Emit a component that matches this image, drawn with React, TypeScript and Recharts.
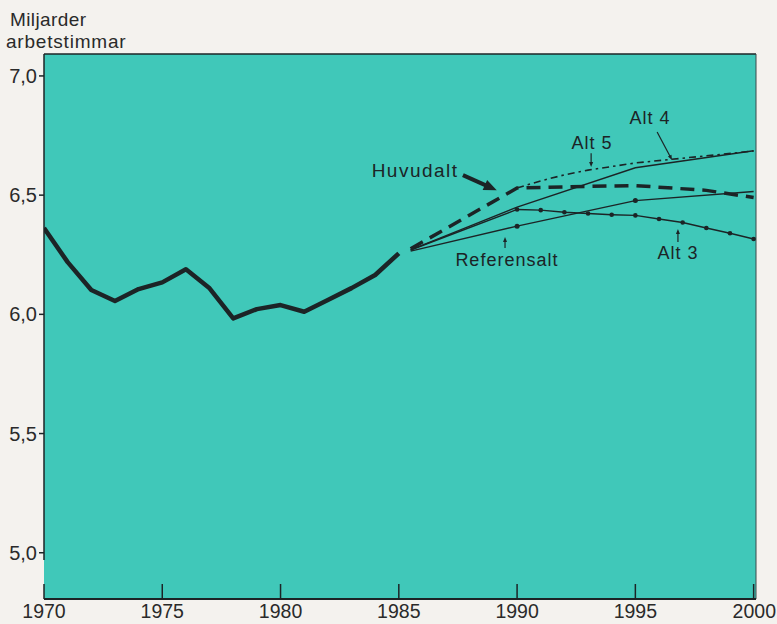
import React from 'react';
import { LineChart, Line, XAxis, YAxis, CartesianGrid, ReferenceLine, ReferenceDot } from 'recharts';

const INK = '#1c2426';
const TEAL = '#40c8b9';
const PAPER = '#f4f2ee';
const FONT = '"Liberation Sans", Arial, sans-serif';

// Historical (1970-1985)
const histYears = [1970, 1971, 1972, 1973, 1974, 1975, 1976, 1977, 1978, 1979, 1980, 1981, 1982, 1983, 1984, 1985];
const histValues = [6.362, 6.219, 6.102, 6.056, 6.106, 6.134, 6.189, 6.109, 5.983, 6.022, 6.039, 6.011, 6.06, 6.11, 6.165, 6.256];

// Projections
const huvudaltYears = [1985.5, 1990, 1993, 1995, 1998, 2000];
const huvudaltValues = [6.275, 6.53, 6.537, 6.54, 6.52, 6.49];

const alt4Years = [1985.5, 1990, 1995, 2000];
const alt4Values = [6.27, 6.45, 6.615, 6.686];

const alt5Years = [1990, 1991, 1992, 1993, 1995, 1997, 2000];
const alt5Values = [6.53, 6.56, 6.585, 6.605, 6.635, 6.655, 6.685];

const alt3Years = [1985.5, 1990, 1991, 1992, 1993, 1994, 1995, 1996, 1997, 1998, 1999, 2000];
const alt3Values = [6.27, 6.44, 6.437, 6.428, 6.423, 6.418, 6.415, 6.4, 6.385, 6.362, 6.34, 6.316];

const refYears = [1985.5, 1990, 1995, 2000];
const refValues = [6.265, 6.37, 6.477, 6.515];

const xTicks = [1970, 1975, 1980, 1985, 1990, 1995, 2000];
const yTicks = [5, 5.5, 6, 6.5, 7];
const xDomain = [1970, 2000.1];
const yDomain = [4.806, 7.092];

// Annotations
const labelTexts = ['Huvudalt', 'Alt 5', 'Alt 4', 'Referensalt', 'Alt 3'];
const labelYears = [1985.69, 1993.17, 1995.62, 1989.57, 1996.8];
const labelValues = [6.604, 6.722, 6.823, 6.228, 6.257];

const arrowFromYears = [1987.71, 1993.13, 1995.92, 1989.49, 1996.8];
const arrowFromValues = [6.584, 6.676, 6.765, 6.278, 6.303];
const arrowToYears = [1989.14, 1993.13, 1996.55, 1989.49, 1996.8];
const arrowToValues = [6.52, 6.618, 6.647, 6.324, 6.358];

const toPoints = (xs: number[], ys: number[]) => xs.map((year, i) => ({ year, value: ys[i] }));

const hist = toPoints(histYears, histValues);
const huvudalt = toPoints(huvudaltYears, huvudaltValues);
const alt4 = toPoints(alt4Years, alt4Values);
const alt5 = toPoints(alt5Years, alt5Values);
const alt3 = toPoints(alt3Years, alt3Values);
const ref = toPoints(refYears, refValues);

const XTick = (props: any) => {
  const { x, y, payload } = props;
  const last = payload.value === xTicks[xTicks.length - 1];
  return (
    <g>
      <line x1={x} x2={x} y1={y - 15} y2={y} stroke={INK} strokeWidth={1.5} />
      <text
        x={last ? 776 : x}
        y={y + 19}
        textAnchor={last ? 'end' : 'middle'}
        fontSize={19.5}
        fontFamily={FONT}
        fill="#2a2a2a"
      >
        {payload.value}
      </text>
    </g>
  );
};

const makeArrow = (head: number, width: number, sw: number) => (p: any) => {
  const { x1, y1, x2, y2 } = p;
  const dx = x2 - x1;
  const dy = y2 - y1;
  const len = Math.hypot(dx, dy) || 1;
  const ux = dx / len;
  const uy = dy / len;
  const bx = x2 - ux * head;
  const by = y2 - uy * head;
  const px = (-uy * width) / 2;
  const py = (ux * width) / 2;
  return (
    <g>
      <line x1={x1} y1={y1} x2={bx + ux * 1} y2={by + uy * 1} stroke={INK} strokeWidth={sw} />
      <polygon points={`${x2},${y2} ${bx + px},${by + py} ${bx - px},${by - py}`} fill={INK} />
    </g>
  );
};

const arrowStyles = [makeArrow(13, 11, 4), makeArrow(5, 4, 1.2), makeArrow(5, 4, 1.2), makeArrow(5, 4, 1.2), makeArrow(5, 4, 1.2)];

const alt3Dot = (p: any) => {
  const { cx, cy, payload, index } = p;
  if (payload.year >= 1990) return <circle key={`a3-${index}`} cx={cx} cy={cy} r={2.3} fill={INK} />;
  return <g key={`a3-${index}`} />;
};

const refDot = (p: any) => {
  const { cx, cy, payload, index } = p;
  if (payload.year === 1990 || payload.year === 1995) return <circle key={`rf-${index}`} cx={cx} cy={cy} r={2.5} fill={INK} />;
  return <g key={`rf-${index}`} />;
};

export default function App() {
  return (
    <div style={{ position: 'absolute', left: 0, top: 0, width: 777, height: 624, background: PAPER, overflow: 'hidden' }}>
      <LineChart width={777} height={624} margin={{ top: 54, right: 21, bottom: 0, left: 0 }}>
        <CartesianGrid horizontal={false} vertical={false} fill={TEAL} fillOpacity={1} stroke="none" />
        <XAxis
          dataKey="year"
          type="number"
          domain={xDomain}
          ticks={xTicks}
          allowDataOverflow
          height={25}
          tickSize={0}
          tickMargin={0}
          tickLine={false}
          tick={<XTick />}
          axisLine={{ stroke: INK, strokeWidth: 2 }}
        />
        <YAxis
          type="number"
          domain={yDomain}
          ticks={yTicks}
          allowDataOverflow
          width={44}
          tickSize={5}
          tickMargin={2}
          axisLine={false}
          tickLine={{ stroke: INK, strokeWidth: 1.5 }}
          tick={{ fontSize: 20, fontFamily: FONT, fill: '#2a2a2a' }}
          tickFormatter={(v: number) => v.toFixed(1).replace('.', ',')}
        />
        <ReferenceLine segment={[{ x: 1970, y: 4.97 }, { x: 1970, y: yDomain[1] }]} stroke={INK} strokeWidth={1.5} />
        <ReferenceLine segment={[{ x: 1970, y: yDomain[1] }, { x: xDomain[1], y: yDomain[1] }]} stroke={INK} strokeWidth={1.5} />
        <ReferenceLine segment={[{ x: xDomain[1], y: yDomain[0] }, { x: xDomain[1], y: yDomain[1] }]} stroke="#3a4a4a" strokeWidth={1} />

        <Line data={hist} dataKey="value" stroke={INK} strokeWidth={4.5} strokeLinejoin="round" dot={false} isAnimationActive={false} />
        <Line data={ref} dataKey="value" stroke={INK} strokeWidth={1.4} dot={refDot} isAnimationActive={false} />
        <Line data={alt3} dataKey="value" stroke={INK} strokeWidth={1.4} dot={alt3Dot} isAnimationActive={false} />
        <Line data={alt4} dataKey="value" stroke={INK} strokeWidth={1.4} dot={false} isAnimationActive={false} />
        <Line data={alt5} dataKey="value" stroke={INK} strokeWidth={1.6} strokeDasharray="7 4 2.5 4" dot={false} isAnimationActive={false} />
        <Line data={huvudalt} dataKey="value" stroke={INK} strokeWidth={3.5} strokeDasharray="14 8" dot={false} isAnimationActive={false} />

        {labelTexts.map((t, i) => (
          <ReferenceLine
            key={`arr-${t}`}
            segment={[
              { x: arrowFromYears[i], y: arrowFromValues[i] },
              { x: arrowToYears[i], y: arrowToValues[i] },
            ]}
            shape={arrowStyles[i]}
          />
        ))}
        {labelTexts.map((t, i) => (
          <ReferenceDot
            key={`lbl-${t}`}
            x={labelYears[i]}
            y={labelValues[i]}
            r={0}
            shape={(p: any) => (
              <text
                x={p.cx}
                y={p.cy}
                dy="0.35em"
                textAnchor="middle"
                fontSize={i === 0 ? 19 : 18}
                letterSpacing={i === 0 ? 1.5 : 1}
                fontFamily={FONT}
                fill={INK}
              >
                {t}
              </text>
            )}
          />
        ))}
      </LineChart>
      <svg width={777} height={60} style={{ position: 'absolute', left: 0, top: 0, pointerEvents: 'none' }}>
        <text x={10} y={26} fontSize={19} letterSpacing={0.4} fontFamily={FONT} fill="#2a2a2a">Miljarder</text>
        <text x={6} y={48} fontSize={19} letterSpacing={0.8} fontFamily={FONT} fill="#2a2a2a">arbetstimmar</text>
      </svg>
    </div>
  );
}
